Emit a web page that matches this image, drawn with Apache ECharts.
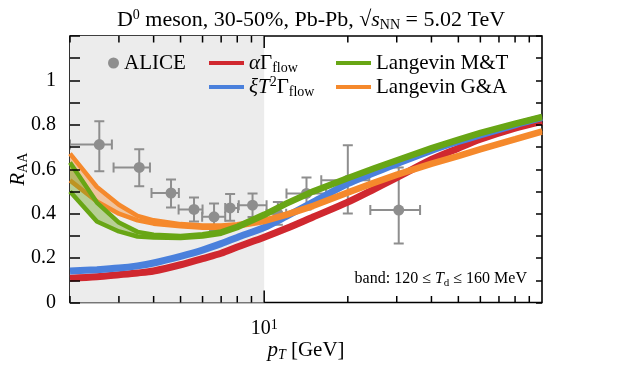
<!DOCTYPE html>
<html>
<head>
<meta charset="utf-8">
<script src="https://cdn.jsdelivr.net/npm/echarts@6/dist/echarts.min.js"></script>
<style>
  html, body { margin: 0; padding: 0; background: #fff; }
  #chart { width: 637px; height: 366px; }
</style>
</head>
<body>
<div id="chart"></div>
<script>
// model curves (band: Td = 120..160 MeV)
const ptGrid    = [2, 2.5, 3, 3.5, 4, 5, 6, 7, 8, 10, 12, 15, 20, 25, 30, 40, 50, 60, 80, 100];
const alphaFlow = [0.109, 0.116, 0.125, 0.133, 0.142, 0.170, 0.198, 0.222, 0.250, 0.294, 0.333, 0.385, 0.452, 0.512, 0.562, 0.644, 0.695, 0.735, 0.785, 0.816];
const xiFlow    = [0.142, 0.148, 0.155, 0.165, 0.178, 0.208, 0.236, 0.265, 0.293, 0.338, 0.388, 0.452, 0.535, 0.585, 0.625, 0.685, 0.725, 0.755, 0.800, 0.832];
const mtLo      = [0.500, 0.365, 0.320, 0.297, 0.293, 0.290, 0.297, 0.310, 0.335, 0.390, 0.440, 0.495, 0.555, 0.600, 0.635, 0.690, 0.728, 0.758, 0.800, 0.830];
const mtHi      = [0.630, 0.450, 0.360, 0.318, 0.305, 0.300, 0.307, 0.320, 0.345, 0.400, 0.450, 0.505, 0.565, 0.610, 0.645, 0.700, 0.738, 0.768, 0.810, 0.840];
const gaLo      = [0.550, 0.455, 0.400, 0.370, 0.355, 0.343, 0.337, 0.337, 0.342, 0.362, 0.390, 0.430, 0.490, 0.535, 0.570, 0.620, 0.655, 0.685, 0.730, 0.765];
const gaHi      = [0.670, 0.520, 0.440, 0.390, 0.370, 0.353, 0.347, 0.347, 0.352, 0.372, 0.400, 0.440, 0.500, 0.545, 0.580, 0.630, 0.665, 0.695, 0.740, 0.775];

// ALICE D0, 30-50%
const alicePt    = [2.55, 3.55, 4.62, 5.59, 6.6, 7.54, 9.08, 11.2, 14.2, 20.0, 30.5];
const alicePtLo  = [2.0, 2.87, 3.93, 4.92, 5.98, 7.24, 8.1, 10.2, 12.03, 16.05, 24.1];
const alicePtHi  = [2.83, 3.88, 4.93, 6.0, 7.24, 8.05, 10.2, 12.0, 16.7, 23.9, 36.4];
const aliceRaa   = [0.711, 0.608, 0.493, 0.419, 0.386, 0.426, 0.438, 0.400, 0.491, 0.551, 0.416];
const aliceRaaLo = [0.591, 0.524, 0.428, 0.365, 0.326, 0.368, 0.385, 0.350, 0.419, 0.401, 0.266];
const aliceRaaHi = [0.816, 0.690, 0.554, 0.473, 0.446, 0.488, 0.491, 0.453, 0.563, 0.708, 0.608];

const xMajorTicks = [10];
const xMinorTicks = [2, 3, 4, 5, 6, 7, 8, 9, 20, 30, 40, 50, 60, 70, 80, 90];
const xTickLabels = ['10{sup|1}'];
const yTickLabels = ['0', '0.2', '0.4', '0.6', '0.8', '1'];
const shadeRange = [2, 10];
const yRange = [0, 1.2];

const FONT = 'Liberation Serif';
const GREY = '#8e8e8e';
const RED = '#d0282f';
const BLUE = '#4a80dc';
const GREEN = '#68a615';
const ORANGE = '#f5892c';

const rich = {
  i: { fontFamily: FONT, fontSize: 21, fontStyle: 'italic', color: '#000', lineHeight: 24 },
  n: { fontFamily: FONT, fontSize: 21, color: '#000', lineHeight: 24 },
  s: { fontFamily: FONT, fontSize: 14, color: '#000', lineHeight: 14, verticalAlign: 'bottom' },
  si: { fontFamily: FONT, fontSize: 14, fontStyle: 'italic', color: '#000', lineHeight: 14, verticalAlign: 'bottom' },
  sup: { fontFamily: FONT, fontSize: 14, color: '#000', lineHeight: 14, verticalAlign: 'top' }
};

const pairs = (ys) => ptGrid.map((p, i) => [p, ys[i]]);

const chart = echarts.init(document.getElementById('chart'), null, { renderer: 'canvas' });

function band(key, name, lo, hi, color, z) {
  return [
    {
      name: key + '-fill', type: 'custom', z: z, silent: true, clip: true,
      data: [[ptGrid[0], lo[0]]],
      encode: { x: 0, y: 1 },
      renderItem: (params, api) => {
        const pts = [];
        ptGrid.forEach((p, i) => pts.push(api.coord([p, hi[i]])));
        for (let i = ptGrid.length - 1; i >= 0; i--) pts.push(api.coord([ptGrid[i], lo[i]]));
        return { type: 'polygon', shape: { points: pts }, style: { fill: color, opacity: 0.4 } };
      }
    },
    { name: key + '-lo', type: 'line', data: pairs(lo), symbol: 'none',
      lineStyle: { color: color, width: 4.5 }, silent: true, z: z },
    { name: name, type: 'line', data: pairs(hi), symbol: 'none',
      lineStyle: { color: color, width: 4.5 }, itemStyle: { color: color }, silent: true, z: z }
  ];
}

chart.setOption({
  animation: false,
  title: {
    text: 'D{sup|0} meson, 30-50%, Pb-Pb, √{i|s}{s|NN} = 5.02 TeV',
    left: 306, top: 3, textAlign: 'center',
    textStyle: { fontFamily: FONT, fontSize: 22, fontWeight: 'normal', color: '#000', lineHeight: 24,
      rich: Object.assign({}, rich, {
        i: { fontFamily: FONT, fontSize: 22, fontStyle: 'italic', color: '#000', lineHeight: 24 }
      }) }
  },
  grid: {
    left: 70, right: 95, top: 36, bottom: 63.5, containLabel: false, outerBoundsMode: 'none',
    show: true, borderColor: '#000', borderWidth: 1.6, backgroundColor: 'transparent'
  },
  legend: [
    {
      left: 108, top: 51, orient: 'vertical', padding: 0, itemWidth: 11, itemHeight: 11, selectedMode: false,
      data: [{ name: 'ALICE', icon: 'circle', itemStyle: { color: GREY } }],
      textStyle: { fontFamily: FONT, fontSize: 21, color: '#000', lineHeight: 24 }
    },
    {
      left: 209, top: 51, orient: 'vertical', padding: 0, itemGap: 0, itemWidth: 35, itemHeight: 4, selectedMode: false,
      data: [
        { name: 'alpha', icon: 'rect', itemStyle: { color: RED } },
        { name: 'xi', icon: 'rect', itemStyle: { color: BLUE } }
      ],
      formatter: (n) => n === 'alpha' ? '{i|α}{n|Γ}{s|flow}' : '{i|ξT}{sup|2}{n|Γ}{s|flow}',
      textStyle: { fontFamily: FONT, fontSize: 21, color: '#000', lineHeight: 24, rich: rich }
    },
    {
      left: 336, top: 51, orient: 'vertical', padding: 0, itemGap: 0, itemWidth: 35, itemHeight: 4, selectedMode: false,
      data: [
        { name: 'Langevin M&T', icon: 'rect', itemStyle: { color: GREEN } },
        { name: 'Langevin G&A', icon: 'rect', itemStyle: { color: ORANGE } }
      ],
      textStyle: { fontFamily: FONT, fontSize: 21, color: '#000', lineHeight: 24 }
    }
  ],
  graphic: [
    {
      type: 'text', right: 110, top: 271, z: 10,
      style: {
        text: 'band: 120 ≤ {ti|T}{ts|d} ≤ 160 MeV',
        font: '16px "Liberation Serif"', fill: '#000',
        rich: {
          ti: { fontFamily: FONT, fontSize: 16, fontStyle: 'italic', lineHeight: 19 },
          ts: { fontFamily: FONT, fontSize: 11, lineHeight: 11, verticalAlign: 'bottom' }
        }
      }
    }
  ],
  xAxis: {
    type: 'log', logBase: 10, min: 2, max: 100, z: 10,
    axisLine: { show: false },
    splitLine: { show: false },
    minorTick: { show: false },
    axisTick: { show: false },
    axisLabel: {
      customValues: xMajorTicks, margin: 16,
      formatter: (v) => xTickLabels[xMajorTicks.indexOf(Math.round(v))] || '',
      fontFamily: FONT, fontSize: 20, color: '#000', rich: rich
    },
    name: '{i|p}{si|T} {n|[GeV]}', nameLocation: 'middle', nameGap: 36, nameMoveOverlap: false,
    nameTextStyle: { fontFamily: FONT, fontSize: 21, color: '#000', rich: rich }
  },
  yAxis: [
    {
      type: 'value', min: yRange[0], max: yRange[1], interval: 0.1, position: 'left', z: 10,
      axisLine: { show: false }, splitLine: { show: false },
      axisTick: { inside: true, length: 10, lineStyle: { color: '#000', width: 1.5 } },
      axisLabel: {
        margin: 14, fontFamily: FONT, fontSize: 20, color: '#000', align: 'right',
        formatter: (v, i) => (i % 2 === 0 ? yTickLabels[i / 2] : '')
      },
      name: '{i|R}{s|AA}', nameLocation: 'middle', nameGap: 40, nameRotate: 90, nameMoveOverlap: false,
      nameTextStyle: { fontFamily: FONT, fontSize: 21, color: '#000', rich: rich }
    },
    {
      type: 'value', min: yRange[0], max: yRange[1], interval: 0.1, position: 'right', z: 10,
      axisLine: { show: false }, splitLine: { show: false },
      axisTick: { inside: true, length: 6, lineStyle: { color: '#000', width: 1.5 } },
      axisLabel: { show: false }
    }
  ],
  series: [
    {
      name: 'shade', type: 'line', data: [], z: 0,
      markArea: {
        silent: true,
        itemStyle: { color: '#ececec' },
        data: [[{ xAxis: shadeRange[0] }, { xAxis: shadeRange[1] }]]
      }
    },
    {
      // x-axis ticks on the bottom and top frame (log positions)
      name: 'xticks', type: 'custom', z: 10, silent: true, clip: false,
      data: xMajorTicks.map((v) => [v, yRange[0], 1]).concat(xMinorTicks.map((v) => [v, yRange[0], 0])),
      encode: { x: 0, y: 1 },
      renderItem: (params, api) => {
        const b = api.coord([api.value(0), yRange[0]]);
        const t = api.coord([api.value(0), yRange[1]]);
        const len = api.value(2) ? 12 : 6.5;
        const st = { stroke: '#000', lineWidth: 1.5 };
        return {
          type: 'group',
          children: [
            { type: 'line', shape: { x1: b[0], y1: b[1], x2: b[0], y2: b[1] - len }, style: st },
            { type: 'line', shape: { x1: t[0], y1: t[1], x2: t[0], y2: t[1] + len }, style: st }
          ]
        };
      }
    },
    {
      name: 'ALICE', type: 'custom', z: 2, clip: true,
      itemStyle: { color: GREY },
      data: alicePt.map((p, i) => [p, aliceRaa[i], alicePtLo[i], alicePtHi[i], aliceRaaLo[i], aliceRaaHi[i]]),
      encode: { x: 0, y: 1 },
      renderItem: (params, api) => {
        const c = api.coord([api.value(0), api.value(1)]);
        const l = api.coord([api.value(2), api.value(1)]);
        const r = api.coord([api.value(3), api.value(1)]);
        const b = api.coord([api.value(0), api.value(4)]);
        const t = api.coord([api.value(0), api.value(5)]);
        const st = { stroke: GREY, lineWidth: 2 };
        const cap = 5;
        const ln = (x1, y1, x2, y2) => ({ type: 'line', shape: { x1, y1, x2, y2 }, style: st });
        return {
          type: 'group',
          children: [
            ln(l[0], c[1], r[0], c[1]),
            ln(c[0], t[1], c[0], b[1]),
            ln(l[0], c[1] - cap, l[0], c[1] + cap),
            ln(r[0], c[1] - cap, r[0], c[1] + cap),
            ln(c[0] - cap, t[1], c[0] + cap, t[1]),
            ln(c[0] - cap, b[1], c[0] + cap, b[1]),
            { type: 'circle', shape: { cx: c[0], cy: c[1], r: 5.5 }, style: { fill: GREY } }
          ]
        };
      }
    },
    { name: 'alpha', type: 'line', data: pairs(alphaFlow), symbol: 'none', z: 3, smooth: 0.3,
      lineStyle: { color: RED, width: 7 }, itemStyle: { color: RED }, silent: true },
    { name: 'xi', type: 'line', data: pairs(xiFlow), symbol: 'none', z: 3, smooth: 0.3,
      lineStyle: { color: BLUE, width: 7 }, itemStyle: { color: BLUE }, silent: true }
  ].concat(
    band('ga', 'Langevin G&A', gaLo, gaHi, ORANGE, 4),
    band('mt', 'Langevin M&T', mtLo, mtHi, GREEN, 5)
  )
});
</script>
</body>
</html>
